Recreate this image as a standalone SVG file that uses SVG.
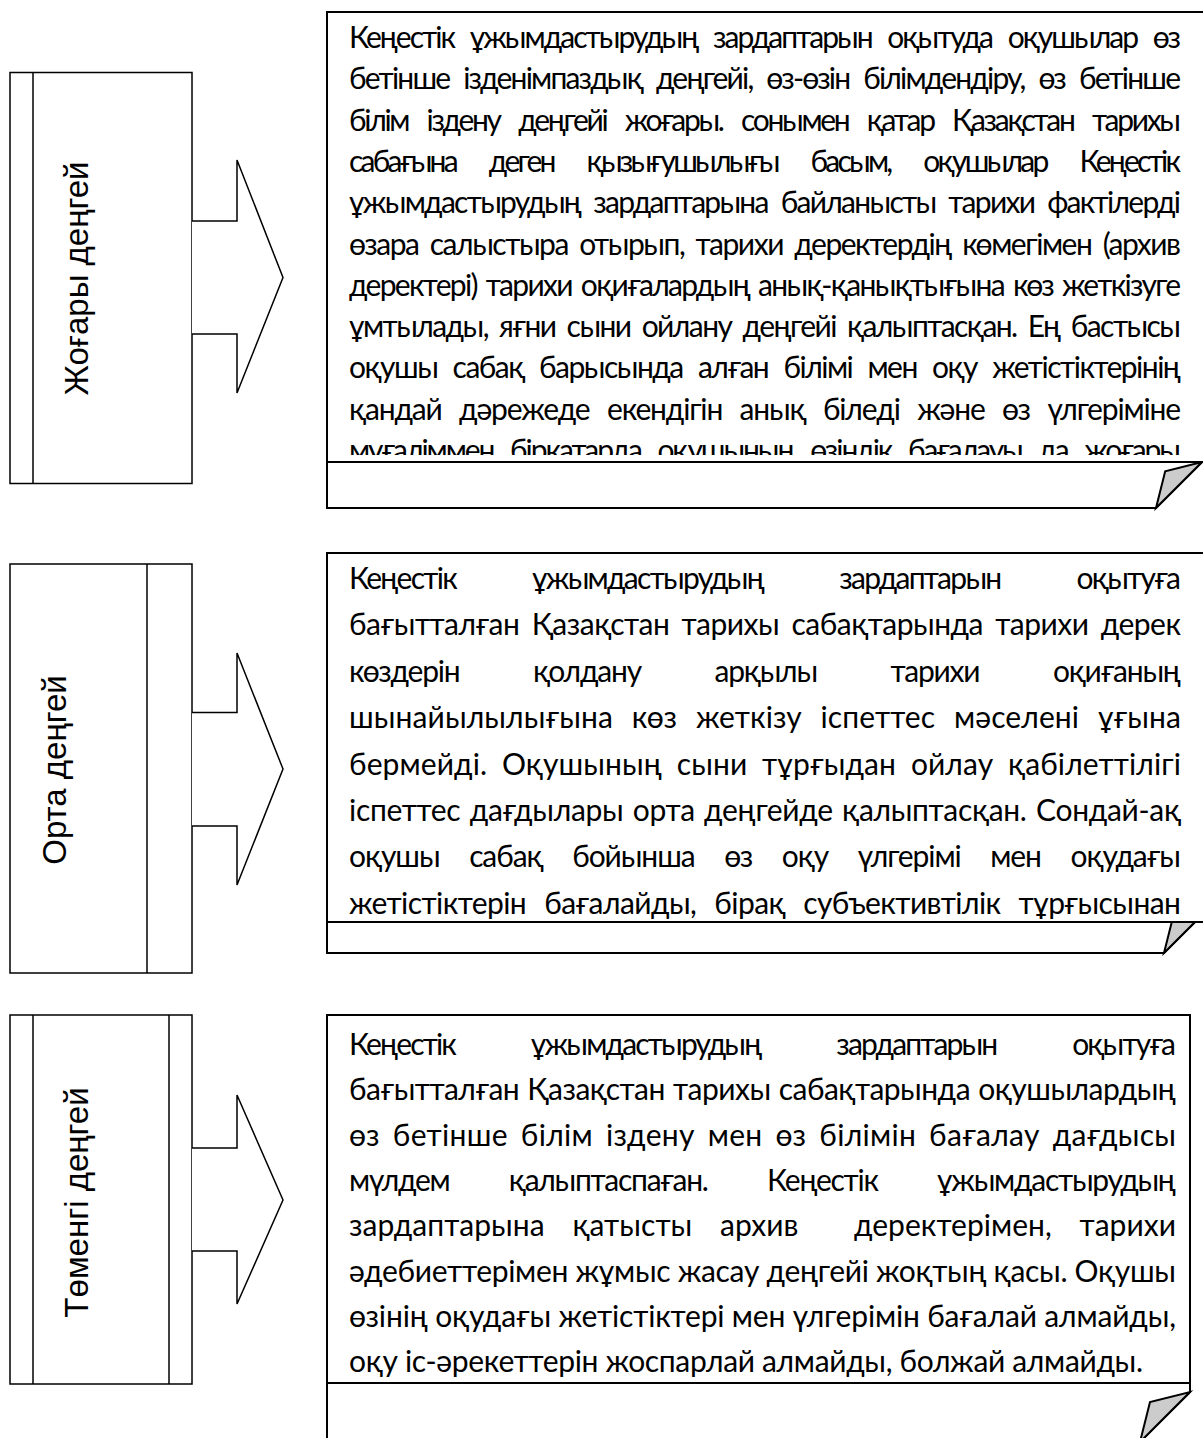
<svg xmlns="http://www.w3.org/2000/svg" width="1203" height="1438" viewBox="0 0 1203 1438">
<style>
.box{fill:#fff;stroke:#000;stroke-width:1.5}
.div{stroke:#000;stroke-width:1.5}
.arrow{fill:#fff;stroke:#000;stroke-width:1.5;stroke-linejoin:miter}
.shape{fill:#fff;stroke:#000;stroke-width:2}
.flap{fill:#cccccc;stroke:#000;stroke-width:2;stroke-linejoin:miter}
.tb{fill:#fff;stroke:#000;stroke-width:2}
.lbl{font-family:"Liberation Sans",Arial,sans-serif;font-size:33px;fill:#000;text-anchor:middle}
.body{font-family:Lato,"Noto Sans",sans-serif;font-size:30px;fill:#000}
</style>
<defs>
<clipPath id="clip1"><rect x="327" y="12" width="876" height="443"/></clipPath>
<clipPath id="clip3"><rect x="327" y="1015" width="863" height="364"/></clipPath>
</defs>
<rect width="1203" height="1438" fill="#fff"/>

<g id="level-high">
<rect class="box" x="10" y="72.5" width="182" height="411"/>
<line class="div" x1="33" y1="72.5" x2="33" y2="483.5"/>
<text class="lbl" transform="translate(88,278.5) rotate(-90)">Жоғары деңгей</text>
</g>
<g id="level-mid">
<rect class="box" x="10" y="564" width="182" height="409"/>
<line class="div" x1="147" y1="564" x2="147" y2="973"/>
<text class="lbl" transform="translate(66,770) rotate(-90)">Орта деңгей</text>
</g>
<g id="level-low">
<rect class="box" x="10" y="1015" width="182" height="369"/>
<line class="div" x1="33" y1="1015" x2="33" y2="1384"/>
<line class="div" x1="169" y1="1015" x2="169" y2="1384"/>
<text class="lbl" transform="translate(88,1202.5) rotate(-90)">Төменгі деңгей</text>
</g>

<g id="connectors">
<path class="arrow" d="M192,221 H237 V160 L283,277.5 L237,393 V334 H192"/>
<path class="arrow" d="M192,712.5 H237 V653 L283,769 L237,885 V826 H192"/>
<path class="arrow" d="M192,1148 H237 V1095 L283,1200 L237,1304 V1251 H192"/>
</g>

<g id="desc-high">
<path class="shape" d="M327,12 H1202 V462 L1156,508 H327 Z"/>
<polygon class="flap" points="1156,508 1165.2,471.2 1202,462"/>
<rect class="tb" x="327" y="12" width="900" height="450"/>
<g class="body" clip-path="url(#clip1)">
<text x="349" y="48" textLength="832" lengthAdjust="spacing" word-spacing="10">Кеңестік ұжымдастырудың зардаптарын оқытуда оқушылар өз</text>
<text x="349" y="89.3" textLength="832" lengthAdjust="spacing" word-spacing="8">бетінше ізденімпаздық деңгейі, өз-өзін білімдендіру, өз бетінше</text>
<text x="349" y="130.6" textLength="832" lengthAdjust="spacing" word-spacing="13">білім іздену деңгейі жоғары. сонымен қатар Қазақстан тарихы</text>
<text x="349" y="171.9" textLength="832" lengthAdjust="spacing" word-spacing="28">сабағына деген қызығушылығы басым, оқушылар Кеңестік</text>
<text x="349" y="213.2" textLength="832" lengthAdjust="spacing" word-spacing="7">ұжымдастырудың зардаптарына байланысты тарихи фактілерді</text>
<text x="349" y="254.5" textLength="832" lengthAdjust="spacing" word-spacing="5">өзара салыстыра отырып, тарихи деректердің көмегімен (архив</text>
<text x="349" y="295.8" textLength="832" lengthAdjust="spacing" word-spacing="3">деректері) тарихи оқиғалардың анық-қанықтығына көз жеткізуге</text>
<text x="349" y="337.1" textLength="832" lengthAdjust="spacing" word-spacing="5">ұмтылады, яғни сыни ойлану деңгейі қалыптасқан. Ең бастысы</text>
<text x="349" y="378.4" textLength="832" lengthAdjust="spacing" word-spacing="9">оқушы сабақ барысында алған білімі мен оқу жетістіктерінің</text>
<text x="349" y="419.7" textLength="832" lengthAdjust="spacing" word-spacing="11">қандай дәрежеде екендігін анық біледі және өз үлгеріміне</text>
<text x="349" y="461" textLength="832" lengthAdjust="spacing" word-spacing="11">мұғаліммен біркатарда оқушының өзіндік бағалауы да жоғары</text>
</g>
</g>

<g id="desc-mid">
<path class="shape" d="M327,553 H1210 V907 L1164,953 H327 Z"/>
<polygon class="flap" points="1164,953 1173.2,916.2 1210,907"/>
<rect class="tb" x="327" y="553" width="900" height="369"/>
<g class="body">
<text x="349" y="589" textLength="832" lengthAdjust="spacing" word-spacing="70">Кеңестік ұжымдастырудың зардаптарын оқытуға</text>
<text x="349" y="635.4" textLength="832" lengthAdjust="spacing" word-spacing="5">бағытталған Қазақстан тарихы сабақтарында тарихи дерек</text>
<text x="349" y="681.8" textLength="832" lengthAdjust="spacing" word-spacing="67">көздерін қолдану арқылы тарихи оқиғаның</text>
<text x="349" y="728.2" textLength="832" lengthAdjust="spacing" word-spacing="11">шынайылылығына көз жеткізу іспеттес мәселені ұғына</text>
<text x="349" y="774.6" textLength="832" lengthAdjust="spacing" word-spacing="7">бермейді. Оқушының сыни тұрғыдан ойлау қабілеттілігі</text>
<text x="349" y="821" textLength="832" lengthAdjust="spacing" word-spacing="2">іспеттес дағдылары орта деңгейде қалыптасқан. Сондай-ақ</text>
<text x="349" y="867.4" textLength="832" lengthAdjust="spacing" word-spacing="23">оқушы сабақ бойынша өз оқу үлгерімі мен оқудағы</text>
<text x="349" y="913.8" textLength="832" lengthAdjust="spacing" word-spacing="11">жетістіктерін бағалайды, бірақ субъективтілік тұрғысынан</text>
</g>
</g>

<g id="desc-low">
<path class="shape" d="M327,1015 H1190 V1392 L1140,1442 H327 Z"/>
<polygon class="flap" points="1140,1442 1150,1402 1190,1392"/>
<rect class="tb" x="327" y="1015" width="863" height="368"/>
<g class="body" clip-path="url(#clip3)">
<text x="349" y="1055" textLength="827" lengthAdjust="spacing" word-spacing="70">Кеңестік ұжымдастырудың зардаптарын оқытуға</text>
<text x="349" y="1100.3" textLength="827" lengthAdjust="spacing" word-spacing="1">бағытталған Қазақстан тарихы сабақтарында оқушылардың</text>
<text x="349" y="1145.6" textLength="827" lengthAdjust="spacing" word-spacing="5">өз бетінше білім іздену мен өз білімін бағалау дағдысы</text>
<text x="349" y="1190.9" textLength="827" lengthAdjust="spacing" word-spacing="53">мүлдем қалыптаспаған. Кеңестік ұжымдастырудың</text>
<text x="349" y="1236.2" textLength="827" lengthAdjust="spacing" word-spacing="20" style="white-space:pre">зардаптарына қатысты архив  деректерімен, тарихи</text>
<text x="349" y="1281.5" textLength="827" lengthAdjust="spacing">әдебиеттерімен жұмыс жасау деңгейі жоқтың қасы. Оқушы</text>
<text x="349" y="1326.8" textLength="827" lengthAdjust="spacing">өзінің оқудағы жетістіктері мен үлгерімін бағалай алмайды,</text>
<text x="349" y="1372.1" textLength="794" lengthAdjust="spacing">оқу іс-әрекеттерін жоспарлай алмайды, болжай алмайды.</text>
</g>
</g>
</svg>
